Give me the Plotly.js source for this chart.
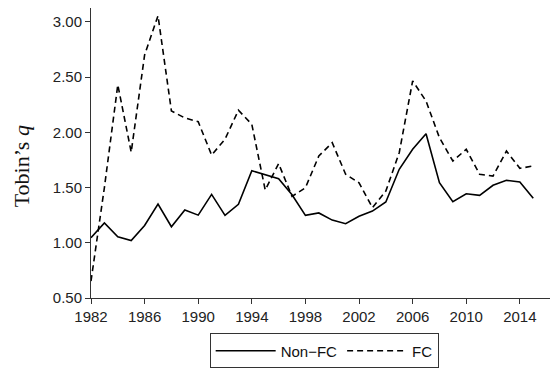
<!DOCTYPE html>
<html>
<head>
<meta charset="utf-8">
<script src="https://cdn.plot.ly/plotly-3.0.1.min.js"></script>
<style>html,body{margin:0;padding:0;background:#fff;}#chart{width:553px;height:371px;}</style>
</head>
<body>
<div id="chart"></div>
<script>
const years = [1982,1983,1984,1985,1986,1987,1988,1989,1990,1991,1992,1993,1994,1995,1996,1997,1998,1999,2000,2001,2002,2003,2004,2005,2006,2007,2008,2009,2010,2011,2012,2013,2014,2015];
const nonFC = [1.045,1.18,1.054,1.02,1.157,1.35,1.145,1.296,1.25,1.438,1.248,1.348,1.652,1.615,1.58,1.435,1.248,1.27,1.205,1.172,1.24,1.287,1.369,1.665,1.846,1.987,1.543,1.371,1.444,1.429,1.52,1.565,1.55,1.402];
const FC = [0.653,1.5,2.43,1.82,2.7,3.055,2.193,2.13,2.096,1.794,1.937,2.2,2.072,1.478,1.716,1.42,1.498,1.785,1.906,1.62,1.543,1.317,1.468,1.815,2.465,2.283,1.951,1.74,1.846,1.62,1.604,1.83,1.674,1.695];
const seriesNames = ["Non\u2212FC","FC"];
const yTicks = [0.5,1.0,1.5,2.0,2.5,3.0];
const xTicks = [1982,1986,1990,1994,1998,2002,2006,2010,2014];
const yTitle = "Tobin\u2019s <i>q</i>";

const sans = "Liberation Sans, Arial, Helvetica, sans-serif";
const traces = [
  {x: years, y: nonFC, name: seriesNames[0], type: "scatter", mode: "lines",
   line: {color: "#000", width: 1.6}},
  {x: years, y: FC, name: seriesNames[1], type: "scatter", mode: "lines",
   line: {color: "#000", width: 1.6, dash: "6px,4px"}}
];
const layout = {
  width: 553, height: 371,
  margin: {l: 91, r: 3, t: 8, b: 73, autoexpand: false},
  paper_bgcolor: "#fff", plot_bgcolor: "#fff",
  font: {family: sans, size: 15, color: "#222"},
  showlegend: true,
  legend: {orientation: "h", x: 0.508, xanchor: "center", y: -0.243, yanchor: "bottom",
           bordercolor: "#333", borderwidth: 1, font: {family: sans, size: 15, color: "#111"},
           itemwidth: 60, tracegroupgap: 0},
  xaxis: {range: [1982, 2016.25], tickmode: "array", tickvals: xTicks, ticktext: xTicks.map(String),
          showgrid: false, zeroline: false, showline: true, linecolor: "#333", linewidth: 1,
          ticks: "outside", ticklen: 5, tickcolor: "#333", tickwidth: 1, automargin: false},
  yaxis: {range: [0.5, 3.125], tickmode: "array", tickvals: yTicks, ticktext: yTicks.map(v => v.toFixed(2)),
          showgrid: false, zeroline: false, showline: true, linecolor: "#333", linewidth: 1,
          ticks: "outside", ticklen: 5, tickcolor: "#333", tickwidth: 1, automargin: false},
  annotations: [{text: yTitle, xref: "paper", yref: "paper", x: -0.152, y: 0.455,
                 xanchor: "center", yanchor: "middle", textangle: -90, showarrow: false,
                 font: {family: "Liberation Serif, Times New Roman, serif", size: 22, color: "#111"}}]
};
Plotly.newPlot("chart", traces, layout, {displayModeBar: false, staticPlot: true});
</script>
</body>
</html>
